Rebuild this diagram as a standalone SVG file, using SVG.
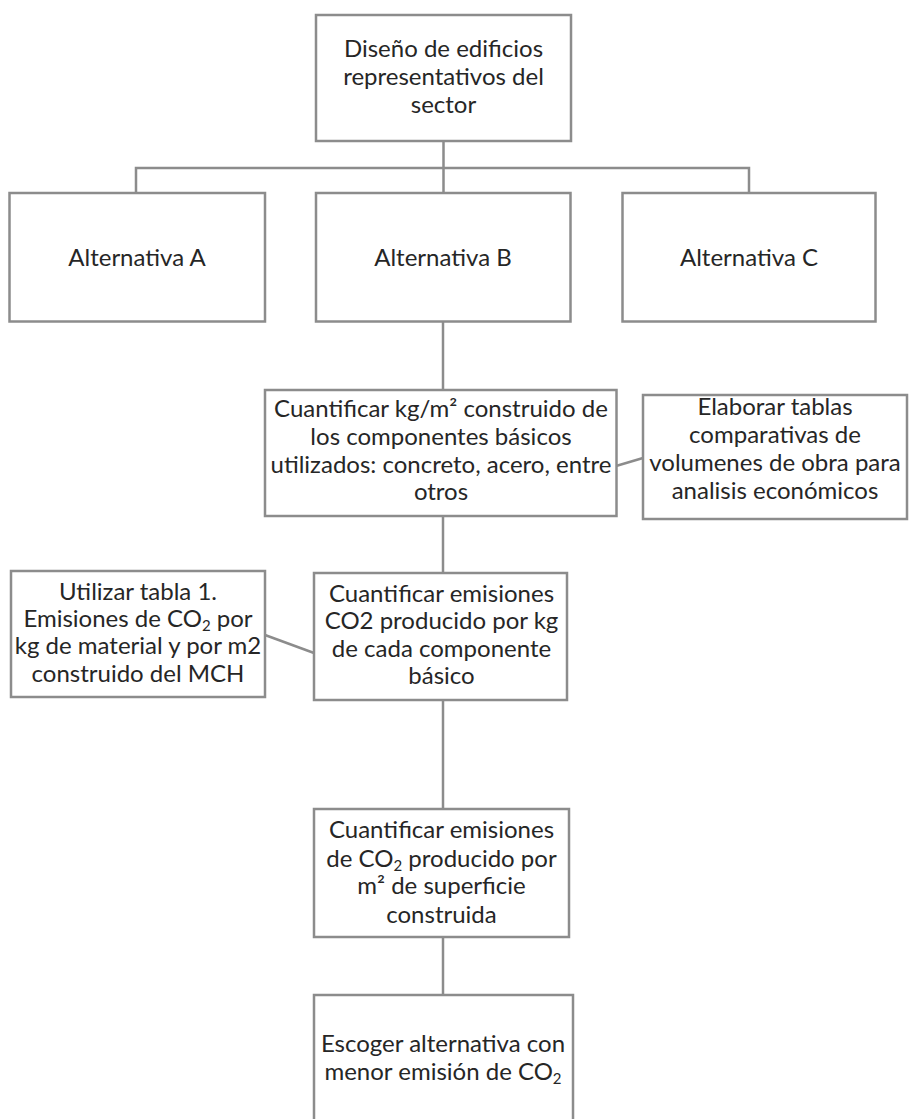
<svg xmlns="http://www.w3.org/2000/svg" width="910" height="1119" viewBox="0 0 910 1119">
<style>
.box{fill:#fff;stroke:#8c8c8c;stroke-width:2.5}
.con{fill:none;stroke:#8c8c8c;stroke-width:2.5}
text{font-family:Lato,"Open Sans",sans-serif;font-size:24px;fill:#262626;text-anchor:middle}
.sub{font-size:15px}
</style>
<rect width="910" height="1119" fill="#fff"/>
<g id="connectors">
<path class="con" d="M443.5 141V193M136 193V168H749V193"/>
<path class="con" d="M443 322V390"/>
<path class="con" d="M616 466L643 458"/>
<path class="con" d="M443 516V573"/>
<path class="con" d="M314 653L265 635"/>
<path class="con" d="M443 700V809"/>
<path class="con" d="M443 937V995"/>
</g>
<g id="n-top">
<rect class="box" x="316" y="15" width="255" height="126"/>
<text x="443.5" y="57">Diseño de edificios</text>
<text x="443.5" y="85">representativos del</text>
<text x="443.5" y="113">sector</text>
</g>
<g id="n-altA">
<rect class="box" x="9.5" y="193" width="255.5" height="128.5"/>
<text x="137" y="266">Alternativa A</text>
</g>
<g id="n-altB">
<rect class="box" x="316" y="193" width="254.5" height="128.5"/>
<text x="443" y="266">Alternativa B</text>
</g>
<g id="n-altC">
<rect class="box" x="622.5" y="193" width="253" height="128.5"/>
<text x="749" y="266">Alternativa C</text>
</g>
<g id="n-kgm2">
<rect class="box" x="265" y="390" width="351.5" height="126"/>
<text x="441" y="417">Cuantificar kg/m² construido de</text>
<text x="441" y="445">los componentes básicos</text>
<text x="441" y="473">utilizados: concreto, acero, entre</text>
<text x="441" y="500">otros</text>
</g>
<g id="n-tablas">
<rect class="box" x="643" y="395" width="264" height="124"/>
<text x="775" y="415">Elaborar tablas</text>
<text x="775" y="443">comparativas de</text>
<text x="775" y="471">volumenes de obra para</text>
<text x="775" y="499">analisis económicos</text>
</g>
<g id="n-tabla1">
<rect class="box" x="11" y="571" width="254" height="126"/>
<text x="138" y="600">Utilizar tabla 1.</text>
<text x="138" y="627">Emisiones de CO<tspan class="sub" dy="4">2</tspan><tspan dy="-4"> por</tspan></text>
<text x="138" y="654">kg de material y por m2</text>
<text x="138" y="682">construido del MCH</text>
</g>
<g id="n-kg">
<rect class="box" x="314" y="573" width="253" height="127"/>
<text x="441.5" y="602">Cuantificar emisiones</text>
<text x="441.5" y="629">CO2 producido por kg</text>
<text x="441.5" y="657">de cada componente</text>
<text x="441.5" y="684">básico</text>
</g>
<g id="n-m2">
<rect class="box" x="314" y="809" width="255" height="128"/>
<text x="441.5" y="838">Cuantificar emisiones</text>
<text x="441.5" y="867">de CO<tspan class="sub" dy="4">2</tspan><tspan dy="-4"> producido por</tspan></text>
<text x="441.5" y="894">m² de superficie</text>
<text x="441.5" y="923">construida</text>
</g>
<g id="n-escoger">
<rect class="box" x="314" y="995" width="259" height="140"/>
<text x="443" y="1052">Escoger alternativa con</text>
<text x="443" y="1080">menor emisión de CO<tspan class="sub" dy="4">2</tspan></text>
</g>
</svg>
